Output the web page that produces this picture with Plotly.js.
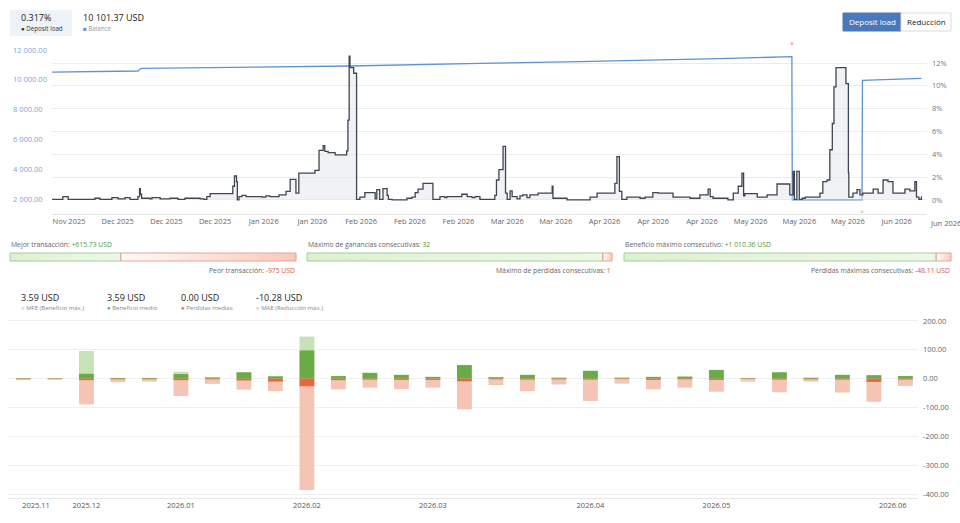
<!DOCTYPE html>
<html><head><meta charset="utf-8">
<script src="https://cdn.plot.ly/plotly-3.0.1.min.js"></script>
<style>html,body{margin:0;padding:0;background:#fff;}#chart{width:960px;height:523px;}</style>
</head><body><div id="chart"></div>
<script>
// ================= DATA =================
// Top chart: x = days since 2025-11-23
const loadDay = [-4.1,-1.5,-0.2,6.3,7.5,10.4,11.9,13.6,14.8,16.7,17.1,17.3,17.6,19.6,20.1,22.1,24.5,26.4,28.1,31.8,32.7,33.4,34.2,39.7,40.1,40.6,40.8,41.2,41.9,42.9,46.8,47.7,48.7,50.9,52.6,53.6,55.0,55.7,59.6,60.6,61.6,62.0,62.8,64.5,67.3,67.6,67.9,68.1,69.0,69.7,70.5,71.7,74.2,74.6,75.3,76.1,77.1,77.4,78.3,81.9,83.1,83.9,84.6,85.8,88.2,89.9,91.1,91.6,95.2,96.5,97.7,98.4,99.6,103.2,103.6,104.2,105.2,105.8,106.2,106.9,107.4,108.6,109.3,110.0,111.0,111.7,113.7,117.1,117.3,120.7,126.3,128.0,132.3,132.8,133.4,134.0,135.2,138.4,139.6,141.5,142.8,146.4,150.5,152.9,154.9,155.4,156.1,159.7,161.0,162.2,163.1,163.5,163.8,166.8,169.2,171.6,174.7,175.5,175.8,176.4,177.0,177.7,178.4,182.0,182.7,183.7,184.4,185.0,185.4,185.9,188.3,188.9,189.0,190.0,191.0,191.7,192.4,194.9,196.1,197.3,198.5,199.7,202.6,203.8,205.0,205.4,206.0,206.6];
const loadPct = [0.05,0.3,0.05,0.15,0.05,0.2,0.1,0.2,0.05,0.3,1.0,0.5,0.15,0.1,0.2,0.1,0.15,0.05,0.15,0.1,0.05,0.3,0.55,1.2,2.1,1.6,0.0,0.3,0.4,0.3,0.25,0.35,0.3,0.45,0.75,1.8,0.6,2.35,2.6,4.35,4.75,4.25,4.15,3.95,4.3,7.0,12.6,11.6,11.1,0.05,0.25,0.65,0.1,0.9,0.05,1.0,0.4,0.05,0.0,0.15,0.25,0.65,0.95,1.45,0.05,0.3,0.2,0.3,0.5,0.3,0.2,0.3,0.05,0.4,1.75,2.65,4.7,0.6,0.05,0.8,0.3,0.1,0.35,0.45,0.2,0.45,0.6,1.2,0.15,0.0,0.25,0.6,1.45,3.8,0.75,0.05,0.25,0.15,0.25,0.65,0.6,0.25,0.15,0.45,0.95,0.3,0.15,0.0,0.6,1.2,2.35,0.35,0.55,0.25,0.45,1.4,0.45,2.5,0.05,2.5,0.05,0.15,0.25,0.6,1.6,1.75,4.4,6.7,9.9,11.6,10.2,2.4,0.25,0.6,0.9,0.45,0.6,0.95,0.6,1.75,1.6,0.6,0.95,0.8,1.6,0.25,0.05,0.32];
const balanceDay = [-4.1,16.7,17.5,68.1,99.6,123.8,160.2,175.2,175.3,192.2,192.3,206.6];
const balanceUsd = [10520,10590,10770,10925,11105,11215,11440,11550,1950,1950,9960,10101.37];
const dateTickDay = [0,11.8,23.6,35.4,47.2,59,70.8,82.6,94.4,106.2,118,129.8,141.6,153.4,165.2,177,188.8,200.6,212.4];
const dateTickText = ['Nov 2025','Dec 2025','Dec 2025','Dec 2025','Jan 2026','Jan 2026','Feb 2026','Feb 2026','Feb 2026','Mar 2026','Mar 2026','Apr 2026','Apr 2026','Apr 2026','May 2026','May 2026','May 2026','Jun 2026','Jun 2026'];
const usdTicks = [2000,4000,6000,8000,10000,12000];
const pctTicks = [0,2,4,6,8,10,12];
const currentLoad = 0.317;
const currentBalance = 10101.37;

// Stats
const bestTrade = 615.73, worstTrade = -975;
const maxConsecWins = 32, maxConsecLosses = 1;
const maxConsecProfit = 1010.36, maxConsecLoss = -48.11;

// Bottom chart (periods)
const periodIndex = [0,1,2,3,4,5,6,7,8,9,10,11,12,13,14,15,16,17,18,19,20,21,22,23,24,25,26,27,28];
const mfe       = [2.5,2,96,3,3,24,5,23,9,146,10,21,14,7,48,6,14,4,28,4,7,8,31,3,23,4,14,13,10];
const avgProfit = [1.5,1.2,17,2.5,2.5,16,4,22,8,98,9,20,13,6,47,5,13,3,27,3,6,7,30,2,22,3,13,12,9];
const avgLoss   = [-1.5,-1.2,-5,-2,-2,-5,-2,-6,-10,-26,-5,-3,-4,-4,-9,-2,-3,-2,-3,-1,-4,-2,-4,-1,-3,-2,-3,-11,-3];
const mae       = [-5,-4,-89,-12,-10,-60,-18,-38,-43,-386,-37,-31,-36,-31,-106,-22,-43,-20,-77,-17,-37,-31,-45,-10,-47,-10,-48,-80,-25];
const monthTickPos  = [0.4,2,5,9,13,18,22,27.6];
const monthTickText = ['2025.11','2025.12','2026.01','2026.02','2026.03','2026.04','2026.05','2026.06'];
const barTicks = [-400,-300,-200,-100,0,100,200];
const sumMfe = 3.59, sumProfit = 3.59, sumLoss = 0.00, sumMae = -10.28;

// ================= HELPERS =================
const W = 960, H = 523;
const px = x => x / W, py = y => 1 - y / H;
function fmt(v, dec, sign) {
  let s = Math.abs(v).toFixed(dec);
  let parts = s.split('.');
  let i = parts[0].replace(/\B(?=(\d{3})+(?!\d))/g, ' ');
  let out = i + (parts[1] ? '.' + parts[1] : '');
  if (v < 0) out = '-' + out; else if (sign) out = '+' + out;
  return out;
}
const FONT = 'Open Sans, Noto Sans, sans-serif';
const annotations = [];
function ann(x, y, text, size, color, xanchor) {
  annotations.push({xref:'paper', yref:'paper', x:px(x), y:py(y), text:text, showarrow:false,
    xanchor:xanchor||'left', yanchor:'middle', font:{family:FONT, size:size, color:color}, borderpad:0});
}
const shapes = [];
function rect(x0,y0,x1,y1,fill,line,lw){
  shapes.push({type:'rect', xref:'paper', yref:'paper', x0:px(x0), x1:px(x1), y0:py(y1), y1:py(y0),
    fillcolor:fill||'rgba(0,0,0,0)', line:{color:line||'rgba(0,0,0,0)', width:lw||0}, layer:'below'});
}
function lerpColor(a,b,t){
  const pa=[1,3,5].map(i=>parseInt(a.substr(i,2),16)), pb=[1,3,5].map(i=>parseInt(b.substr(i,2),16));
  return 'rgb('+pa.map((v,k)=>Math.round(v+(pb[k]-v)*t)).join(',')+')';
}
function gradRect(x0,y0,x1,y1,c0,c1){
  const N=24, w=(x1-x0)/N;
  for(let k=0;k<N;k++) rect(x0+k*w, y0, x0+(k+1)*w+0.3, y1, lerpColor(c0,c1,(k+0.5)/N), null, 0);
}
function statBar(x0,x1,good,bad){
  const y0=253,y1=261, split=x0+(x1-x0)*good/(good+Math.abs(bad));
  gradRect(x0,y0,split,y1,'#dcf0d2','#eef8ea');
  gradRect(split,y0,x1,y1,'#fffaf8','#f8c9ba');
  rect(x0,y0,split,y1,null,'#a3d291',1);
  rect(split,y0,x1,y1,null,'#e6a595',1);
}

// ================= GEOMETRY =================
const TL=52, TR=927, TT=42, TB=214;
const d0=(TL-69)/4.126, d1=(TR-69)/4.126;
const BL=8, BR=918, BT=319, BB=498;
const dayToPx = d => TL + (d-d0)/(d1-d0)*(TR-TL);

// ================= TRACES =================
const traces = [
  {x:loadDay, y:loadPct, xaxis:'x', yaxis:'y2', type:'scatter', mode:'lines', line:{shape:'hv', color:'#3f4650', width:1.3},
   fill:'tozeroy', fillcolor:'rgba(225,229,236,0.5)', hoverinfo:'skip'},
  {x:balanceDay, y:balanceUsd, xaxis:'x', yaxis:'y', type:'scatter', mode:'lines', line:{color:'#5b93d3', width:1.3}, hoverinfo:'skip'},
  {x:periodIndex, y:mfe, xaxis:'x2', yaxis:'y3', type:'bar', marker:{color:'#c7e2b6'}, width:0.47},
  {x:periodIndex, y:mae, xaxis:'x2', yaxis:'y3', type:'bar', marker:{color:'#f5c4b4'}, width:0.47},
  {x:periodIndex, y:avgProfit, xaxis:'x2', yaxis:'y3', type:'bar', marker:{color:'#6aab47'}, width:0.47},
  {x:periodIndex, y:avgLoss, xaxis:'x2', yaxis:'y3', type:'bar', marker:{color:'#e8653d'}, width:0.47}
];

// ================= ANNOTATIONS / SHAPES =================
// header
rect(10,10,72,36,'#eef3f9',null,0);
ann(20,17.5,fmt(currentLoad,3)+'%',9,'#222');
ann(20,28.5,'<span style="color:#333">●</span> Deposit load',6.2,'#333');
ann(82,17.5,fmt(currentBalance,2)+' USD',9,'#222');
ann(82,28.5,'<span style="color:#5b93d3">■</span> Balance',6.2,'#999');
// buttons
rect(843,13,901,31,'#4a79bb','#4a79bb',1);
rect(901,13,951,31,'#ffffff','#dcdcdc',1);
ann(872,22,'Deposit load',8,'#ffffff','center');
ann(926,22,'Reducción',8,'#222','center');

// balance max/min markers
const maxI = balanceUsd.indexOf(Math.max(...balanceUsd));
const minVal = Math.min(...balanceUsd);
const minI = balanceUsd.lastIndexOf(minVal);
ann(dayToPx(balanceDay[maxI]),44,'▼',6,'#f3a9a9','center');
ann(dayToPx(balanceDay[minI]),211,'▲',6,'#cddbc6','center');
// ticks beyond plot range (clipped by window)
dateTickDay.forEach((d,k)=>{ if(d>d1) ann(dayToPx(d),222.5,dateTickText[k],7.5,'#666','center'); });

// stats
const G='#4e9a3a', R='#d9534f', T='#666';
ann(10,244,'Mejor transacción: <span style="color:'+G+'">'+fmt(bestTrade,2,true)+' USD</span>',6.8,T);
ann(296,270,'Peor transacción: <span style="color:'+R+'">'+fmt(worstTrade,0)+' USD</span>',6.8,T,'right');
ann(307,244,'Máximo de ganancias consecutivas: <span style="color:'+G+'">'+maxConsecWins+'</span>',6.8,T);
ann(612,270,'Máximo de pérdidas consecutivas: <span style="color:'+R+'">'+maxConsecLosses+'</span>',6.8,T,'right');
ann(624,244,'Beneficio máximo consecutivo: <span style="color:'+G+'">'+fmt(maxConsecProfit,2,true)+' USD</span>',6.8,T);
ann(951,270,'Pérdidas máximas consecutivas: <span style="color:'+R+'">'+fmt(maxConsecLoss,2)+' USD</span>',6.8,T,'right');
statBar(10,296,bestTrade,worstTrade);
statBar(307,612,maxConsecWins,maxConsecLosses);
statBar(624,951,maxConsecProfit,maxConsecLoss);

// bottom header
ann(20,297,fmt(sumMfe,2)+' USD',9,'#222');
ann(20,308,'<span style="color:#c7e2b6">●</span> MFE (Beneficio máx.)',6,'#888');
ann(106,297,fmt(sumProfit,2)+' USD',9,'#222');
ann(106,308,'<span style="color:#6aab47">●</span> Beneficio medio',6,'#888');
ann(180,297,fmt(sumLoss,2)+' USD',9,'#222');
ann(180,308,'<span style="color:#e8653d">●</span> Pérdidas medias',6,'#888');
ann(255,297,fmt(sumMae,2)+' USD',9,'#222');
ann(255,308,'<span style="color:#f5c4b4">●</span> MAE (Reducción máx.)',6,'#888');

// ================= LAYOUT =================
const tickFont = (c)=>({family:FONT, size:7.5, color:c});
const layout = {
  width:W, height:H, margin:{l:0,r:0,t:0,b:0}, paper_bgcolor:'#fff', plot_bgcolor:'rgba(0,0,0,0)',
  showlegend:false, barmode:'overlay', font:{family:FONT},
  xaxis:{domain:[px(TL),px(TR)], range:[d0,d1], anchor:'y2', tickvals:dateTickDay, ticktext:dateTickText,
    showgrid:false, zeroline:false, showline:true, linecolor:'#e4e4e4', linewidth:1, ticks:'', tickfont:tickFont('#666'), fixedrange:true},
  yaxis:{domain:[py(TB),py(TT)], range:[993,12537], anchor:'free', position:px(9), side:'left',
    ticklabelposition:'inside', ticklabeloverflow:'allow', tickvals:usdTicks, ticktext:usdTicks.map(v=>fmt(v,2)),
    showgrid:false, zeroline:false, showline:false, ticks:'', tickfont:tickFont('#7fa3d5')},
  yaxis2:{domain:[py(TB),py(TT)], range:[-1.23,13.84], overlaying:'y', side:'right', anchor:'x',
    tickvals:pctTicks, ticktext:pctTicks.map(v=>v+'%'), gridcolor:'#ececec', gridwidth:1, zeroline:false, showline:false,
    ticks:'', tickfont:tickFont('#777'), ticklabelstandoff:4},
  xaxis2:{domain:[px(BL),px(BR)], range:[-0.49,28.4], anchor:'y3', tickvals:monthTickPos, ticktext:monthTickText,
    showgrid:false, zeroline:false, showline:true, linecolor:'#e6e6e6', ticks:'', tickfont:tickFont('#555')},
  yaxis3:{domain:[py(BB),py(BT)], range:[-413.5,206.9], anchor:'x2', side:'right',
    tickvals:barTicks, ticktext:barTicks.map(v=>fmt(v,2)), gridcolor:'#efefef', zeroline:false, showline:false,
    ticks:'', tickfont:tickFont('#666'), ticklabelstandoff:4},
  annotations:annotations, shapes:shapes
};
Plotly.newPlot('chart', traces, layout, {displayModeBar:false, staticPlot:true});
</script></body></html>
